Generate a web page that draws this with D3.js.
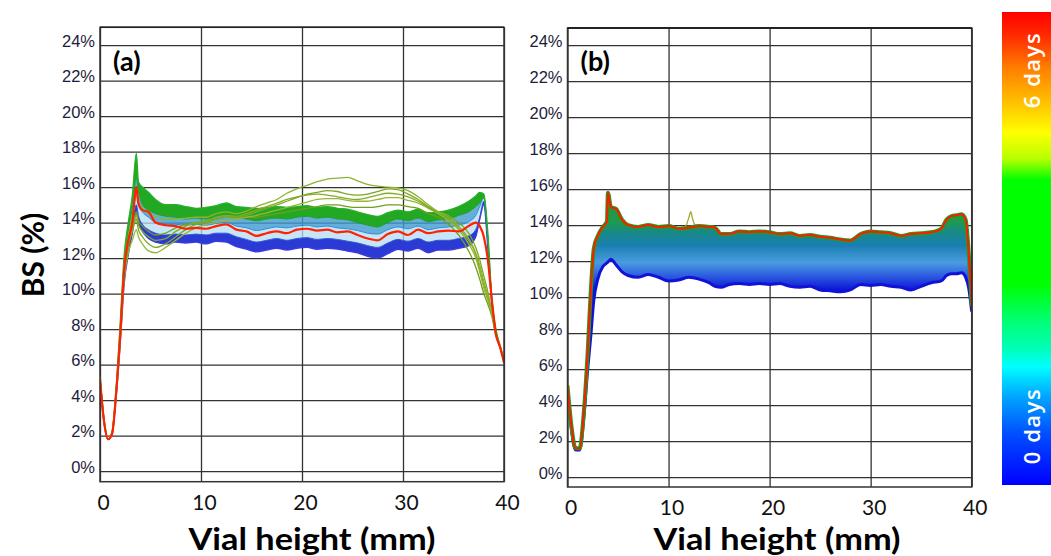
<!DOCTYPE html>
<html><head><meta charset="utf-8">
<script src="https://cdn.jsdelivr.net/npm/d3@7"></script>
<style>body{margin:0;background:#fff}svg{display:block}</style>
</head><body>
<svg id="c" width="1051" height="556"></svg>
<script>
// ---------- shared ticks ----------
const xTicks = [0, 10, 20, 30, 40];
const yTicks = [0, 2, 4, 6, 8, 10, 12, 14, 16, 18, 20, 22, 24];

// ---------- panel (a) data : vial height (mm) and BS (%) ----------
const aHeight = [0,0.4,0.8,1.2,1.6,2.0,2.4,2.8,3.2,3.6,3.8,4.2,4.8,5.5,6.5,7.5,8.5,9.5,10.5,11.5,12.5,13.5,14.5,15.5,16.5,17.5,18.5,19.5,20.5,21.5,22.5,23.5,24.5,25.5,26.5,27.5,28.5,29.5,30.5,31.5,32.5,33.5,34.5,35.5,36.5,37.2,37.6,38.0,38.4,38.8,39.2,39.6,40];
const aDay0 = [5.0,2.7,1.8,2.1,4.2,7.2,10.6, 12.2,13.4,14.6,14.0,13.5,13.1,12.9, 12.8,12.9,12.85,12.9,12.8,12.95,12.9,12.65,12.5,12.35,12.45,12.55,12.45,12.55,12.6,12.5,12.55,12.5,12.4,12.3,12.1,12.0,12.25,12.5,12.4,12.55,12.3,12.45,12.45,12.55,12.7, 13.2,14.2,15.0,12.6,9.4,7.8,7.0,6.2];
const aBlueTop = [5.1,2.8,1.8,2.1,4.3,7.4,11.0, 12.6,13.8,15.0,14.4,13.9,13.6,13.4, 13.3,13.35,13.3,13.35,13.3,13.4,13.4,13.2,13.05,12.9,13.0,13.1,13.0,13.1,13.15,13.05,13.1,13.05,12.95,12.85,12.7,12.6,12.85,13.05,12.95,13.1,12.9,13.0,13.0,13.1,13.25, 13.6,14.3,15.2,12.8,9.5,7.8,7.0,6.2];
const aCyan = [5.2,2.8,1.8,2.2,4.4,7.6,11.3, 13.0,14.3,15.6,15.0,14.6,14.3,14.0, 13.9,13.9,13.85,13.9,13.85,13.95,14.0,13.8,13.7,13.55,13.65,13.75,13.7,13.8,13.85,13.75,13.8,13.7,13.65,13.55,13.4,13.35,13.6,13.75,13.65,13.8,13.6,13.7,13.75,13.85,14.05, 14.4,14.9,15.4,13.0,9.6,7.9,7.0,6.2];
const aGreenLow = [5.3,2.9,1.8,2.2,4.6,8.0,11.8, 13.5,14.8,16.5,15.8,15.0,14.7,14.5, 14.35,14.3,14.2,14.25,14.2,14.3,14.4,14.3,14.2,14.1,14.2,14.25,14.2,14.3,14.35,14.25,14.3,14.2,14.15,14.0,13.85,13.75,14.0,14.2,14.1,14.25,14.05,14.15,14.2,14.4,14.6, 14.9,15.1,15.4,13.2,9.6,7.9,7.0,6.2];
const aGreenTop = [5.3,2.9,1.8,2.2,4.7,8.3,12.2, 14.0,15.5,17.9,16.3,16.0,15.7,15.3, 15.0,15.0,14.9,14.8,14.85,14.95,15.1,14.9,14.85,14.8,14.85,14.9,14.85,14.9,14.95,14.85,14.9,14.8,14.75,14.6,14.45,14.35,14.55,14.7,14.6,14.75,14.55,14.6,14.7,14.9,15.2, 15.5,15.7,15.6,13.4,9.7,8.0,7.1,6.3];
const aOlive1 = [5.3,2.9,1.8,2.2,4.5,7.8,11.6, 13.2,14.4,15.6,15.2,14.8,14.5,14.3, 14.2,14.2,14.25,14.3,14.3,14.5,14.6,14.5,14.65,14.9,15.1,15.3,15.65,15.9,16.1,16.3,16.45,16.5,16.55,16.35,16.15,16.05,16.0,15.95,15.8,15.45,15.0,14.6,14.3,13.8,13.1, 12.3,11.6,10.7,9.9,8.9,7.7,7.0,6.2];
const aOlive2 = [5.2,2.8,1.8,2.2,4.4,7.5,11.0, 12.6,13.5,14.2,13.6,13.2,12.8,12.6, 12.8,13.2,13.6,13.9,14.0,14.2,14.3,14.3,14.4,14.6,14.8,15.0,15.2,15.4,15.6,15.7,15.8,15.75,15.6,15.55,15.6,15.75,15.9,15.85,15.6,15.3,14.9,14.6,14.4,14.0,13.4, 12.6,11.9,11.0,10.1,9.0,7.7,7.0,6.2];
const aOlive3 = [5.2,2.8,1.8,2.2,4.3,7.3,10.8, 12.3,13.0,13.6,13.2,12.8,12.4,12.3, 12.6,13.0,13.4,13.7,13.9,14.0,14.1,14.2,14.3,14.4,14.55,14.7,14.85,15.0,15.15,15.3,15.35,15.35,15.25,15.2,15.2,15.3,15.4,15.4,15.25,15.1,14.8,14.5,14.1,13.6,12.8, 12.0,11.2,10.3,9.6,8.8,7.7,7.0,6.2];
const aOlive4 = [5.3,2.9,1.8,2.2,4.5,7.7,11.4, 12.9,13.8,14.6,14.1,13.8,13.5,13.3, 13.4,13.7,13.9,14.0,14.1,14.2,14.3,14.25,14.3,14.3,14.4,14.5,14.6,14.7,14.8,14.9,15.0,15.0,14.9,14.85,14.85,14.9,15.0,15.0,14.9,14.8,14.5,14.3,13.9,13.3,12.4, 11.5,10.8,10.0,9.4,8.7,7.6,7.0,6.2];
const aOlive5 = [5.2,2.8,1.8,2.2,4.4,7.6,11.2, 12.8,13.6,14.4,13.9,13.5,13.2,13.0, 13.1,13.5,13.8,14.0,14.1,14.3,14.4,14.35,14.5,14.7,14.9,15.1,15.3,15.45,15.55,15.6,15.55,15.45,15.35,15.3,15.4,15.55,15.65,15.6,15.45,15.2,14.85,14.55,14.2,13.7,13.0, 12.2,11.4,10.5,9.8,8.9,7.7,7.0,6.2];
const aRed = [5.2,2.8,1.8,2.1,4.4,7.6,11.4, 13.0,14.0,16.0,15.1,14.7,14.6,14.0, 13.85,13.8,13.65,13.7,13.65,13.8,13.9,13.6,13.5,13.25,13.4,13.5,13.4,13.6,13.65,13.55,13.6,13.45,13.5,13.3,13.1,13.0,13.35,13.5,13.3,13.6,13.4,13.5,13.55,13.5,13.8, 14.0,13.8,13.2,11.9,9.6,7.7,7.0,6.1];

// ---------- panel (b) data ----------
const bHeight = [0,0.4,0.8,1.2,1.6,2.0,2.3,2.6,3.0,3.5,3.9,4.0,4.3,4.8,5.4,6.0,7.0,8.0,9.0,10.0,11.0,12.0,13.0,14.0,14.6,15.2,16.0,17.0,18.0,19.0,20.0,21.0,22.0,23.0,24.0,25.0,26.0,27.0,28.0,29.0,30.0,31.0,32.0,33.0,34.0,35.0,36.0,37.0,37.5,38.0,38.5,39.0,39.4,39.7,40.0];
const bDay0 = [4.9,2.6,1.5,1.5,3.2,6.0, 7.8,9.8,11.0,11.7,11.9,11.95,12.1,11.8,11.4,11.2, 11.1,11.25,11.1,10.9,10.95,11.1,11.0,10.8, 10.6,10.55, 10.7,10.75,10.7,10.75,10.7,10.75,10.6,10.55,10.6,10.4,10.35,10.3,10.4,10.7,10.65,10.7,10.6,10.55,10.4,10.6,10.8,10.9, 11.2,11.3,11.3,11.35,11.1,10.5,9.2];
const bDay6 = [5.1,2.8,1.6,1.6,3.5,7.0, 10.3,12.7,13.4,13.9,14.2,15.8,15.0,14.9,14.3,14.0, 13.9,14.0,13.9,13.95,13.8,13.85,13.95,13.9, 13.85,13.5, 13.5,13.65,13.6,13.65,13.6,13.5,13.55,13.4,13.45,13.35,13.3,13.2,13.15,13.5,13.65,13.6,13.55,13.4,13.5,13.55,13.6,13.8, 14.3,14.5,14.55,14.6,14.3,12.5,9.5];
const bSpikeHeight = [11.2, 11.7, 12.0, 12.2, 12.4, 12.7, 13.2];
const bSpikeValue  = [13.85, 13.95, 14.4, 14.75, 14.3, 13.95, 13.9];

// ---------- colour bar ----------
const barStops = [[0,'#ff0000'],[0.05,'#ff2a00'],[0.12,'#ff8000'],[0.19,'#ffbf00'],[0.255,'#ffff00'],[0.31,'#b8ff00'],[0.355,'#00ff00'],[0.575,'#00ff00'],[0.65,'#00ff70'],[0.71,'#00ffb4'],[0.75,'#00ffff'],[0.81,'#00aaff'],[0.89,'#0050ff'],[1,'#0000ff']];
const barLabels = ['6 days', '0 days'];

// =====================================================
const svg = d3.select('#c');
const defs = svg.append('defs');
const curve = d3.curveMonotoneX;

function drawPanel(cfg) {
  const x = d3.scaleLinear().domain([0, 40]).range(cfg.xr);
  const y = d3.scaleLinear().domain(cfg.yd).range(cfg.yr);
  const W = cfg.xr[1] - cfg.xr[0];
  const g = svg.append('g');

  defs.append('clipPath').attr('id', 'clip' + cfg.id)
    .append('rect').attr('x', cfg.xr[0]).attr('y', cfg.yr[1])
    .attr('width', W).attr('height', cfg.yr[0] - cfg.yr[1]);

  const ya = g.append('g').attr('transform', `translate(${cfg.xr[0]},0)`)
    .call(d3.axisLeft(y).tickValues(yTicks).tickSize(-W).tickPadding(5).tickFormat(d => d + '%'));
  ya.select('.domain').remove();
  ya.selectAll('line').attr('stroke', '#333').attr('stroke-width', 1.3);
  ya.selectAll('text').attr('font-family', '"Liberation Sans", Arial, sans-serif')
    .attr('font-size', 16.5).attr('fill', '#1d1d3a').attr('dy', '0.08em');

  const xa = g.append('g').attr('transform', `translate(0,${cfg.yr[0]})`)
    .call(d3.axisBottom(x).tickValues(xTicks).tickSize(-(cfg.yr[0] - cfg.yr[1])).tickPadding(13));
  xa.select('.domain').remove();
  xa.selectAll('line').attr('stroke', '#333').attr('stroke-width', 1.3);
  xa.selectAll('text').attr('font-family', 'Lato, sans-serif').attr('font-size', 21)
    .attr('fill', '#111').attr('dx', 3);

  const plot = g.append('g').attr('clip-path', `url(#clip${cfg.id})`);
  cfg.draw(plot, x, y);

  g.append('rect').attr('x', cfg.xr[0]).attr('y', cfg.yr[1]).attr('width', W)
    .attr('height', cfg.yr[0] - cfg.yr[1]).attr('fill', 'none')
    .attr('stroke', '#333').attr('stroke-width', 1.5);
  g.append('line').attr('x1', cfg.xr[0]).attr('x2', cfg.xr[1]).attr('y1', cfg.yr[1]).attr('y2', cfg.yr[1])
    .attr('stroke', '#222').attr('stroke-width', cfg.topW);

  g.append('text').attr('x', cfg.xr[0] + 13).attr('y', 71).text(cfg.letter)
    .attr('font-family', 'Lato, sans-serif').attr('font-weight', 700)
    .attr('font-size', 27).attr('fill', '#000');

  g.append('text').attr('x', cfg.titleX).attr('y', 550).attr('text-anchor', 'middle')
    .attr('font-family', 'Lato, sans-serif').attr('font-weight', 700)
    .attr('font-size', 31).attr('textLength', 247).attr('lengthAdjust', 'spacingAndGlyphs')
    .attr('fill', '#000').text('Vial height (mm)');
}

function lineOf(h, v, x, y) {
  return d3.line().curve(curve).x((d, i) => x(h[i])).y((d, i) => y(v[i]))(h);
}
function areaOf(h, lo, hi, x, y) {
  return d3.area().curve(curve).x((d, i) => x(h[i])).y0((d, i) => y(lo[i])).y1((d, i) => y(hi[i]))(h);
}

// ---------- panel (a) ----------
drawPanel({
  id: 'a', letter: '(a)', xr: [100, 504], yd: [-0.6, 25], yr: [481.7, 27.3], titleX: 312, topW: 1.5,
  draw(p, x, y) {
    const h = aHeight;
    p.append('path').attr('d', areaOf(h, aDay0, aBlueTop, x, y)).attr('fill', '#2b3ad4');
    p.append('path').attr('d', areaOf(h, aBlueTop, aCyan, x, y)).attr('fill', '#b4dcf3').attr('opacity', 0.75);
    p.append('path').attr('d', areaOf(h, aCyan, aGreenLow, x, y)).attr('fill', '#3e9ad0').attr('opacity', 0.8);
    p.append('path').attr('d', areaOf(h, aGreenLow, aGreenTop, x, y)).attr('fill', '#22a822');
    const strokes = [
      [aDay0, '#3a3ae0', 1.4], [aBlueTop, '#2a55d0', 1], [aCyan, '#2a8fd8', 1],
      [aGreenLow, '#1e9e2a', 1], [aGreenTop, '#26b026', 1.4]
    ];
    strokes.forEach(([v, c, w]) => p.append('path').attr('d', lineOf(h, v, x, y))
      .attr('fill', 'none').attr('stroke', c).attr('stroke-width', w));
    const olives = [[aOlive4, '#6f9f1c'], [aOlive3, '#96b834'], [aOlive5, '#84ad26'], [aOlive2, '#7da822'], [aOlive1, '#8cb42c']];
    olives.forEach(([v, c]) => p.append('path').attr('d', lineOf(h, v, x, y))
      .attr('fill', 'none').attr('stroke', c).attr('stroke-width', 1.3));
    p.append('path').attr('d', lineOf(h, aRed, x, y)).attr('fill', 'none')
      .attr('stroke', '#ff2200').attr('stroke-width', 2.2);
  }
});

// ---------- panel (b) ----------
const gradB = defs.append('linearGradient').attr('id', 'gradB')
  .attr('gradientUnits', 'userSpaceOnUse').attr('x1', 0).attr('x2', 0);
drawPanel({
  id: 'b', letter: '(b)', xr: [567.5, 971.7], yd: [-0.55, 24.95], yr: [487, 28], titleX: 777, topW: 2.2,
  draw(p, x, y) {
    const h = bHeight;
    gradB.attr('y1', y(14.2)).attr('y2', y(10.4));
    [[0, '#1f9a4c'], [0.15, '#178a84'], [0.35, '#1a7fb0'], [0.6, '#4a9ce0'], [0.8, '#2c5ae0'], [1, '#0c14d8']]
      .forEach(([o, c]) => gradB.append('stop').attr('offset', o).attr('stop-color', c));
    p.append('path').attr('d', areaOf(h, bDay0, bDay6, x, y)).attr('fill', 'url(#gradB)');
    p.append('path').attr('d', lineOf(h, bDay0, x, y)).attr('fill', 'none')
      .attr('stroke', '#1212d6').attr('stroke-width', 3);
    p.append('path').attr('d', lineOf(bSpikeHeight, bSpikeValue, x, y)).attr('fill', 'none')
      .attr('stroke', '#a8a830').attr('stroke-width', 1.3);
    p.append('path').attr('d', lineOf(h, bDay6, x, y)).attr('fill', 'none')
      .attr('stroke', '#1fa01f').attr('stroke-width', 4);
    p.append('path').attr('d', lineOf(h, bDay6, x, y)).attr('fill', 'none')
      .attr('stroke', '#ff1a00').attr('stroke-width', 2);
  }
});

// ---------- y title ----------
svg.append('text').attr('transform', 'translate(44,255) rotate(-90)').attr('text-anchor', 'middle')
  .attr('font-family', 'Lato, sans-serif').attr('font-weight', 700).attr('font-size', 30)
  .attr('fill', '#000').text('BS (%)');

// ---------- colour bar ----------
const barScale = d3.scaleLinear().domain([0, 1]).range([12, 485]);
const gradBar = defs.append('linearGradient').attr('id', 'gradBar').attr('x1', 0).attr('x2', 0).attr('y1', 0).attr('y2', 1);
barStops.forEach(([o, c]) => gradBar.append('stop').attr('offset', o).attr('stop-color', c));
svg.append('rect').attr('x', 1002).attr('y', barScale(0)).attr('width', 49)
  .attr('height', barScale(1) - barScale(0)).attr('fill', 'url(#gradBar)');
[[barLabels[0], 70], [barLabels[1], 426]].forEach(([t, cy]) =>
  svg.append('text').attr('transform', `translate(1040,${cy}) rotate(-90)`).attr('text-anchor', 'middle')
    .attr('font-family', '"Open Sans", sans-serif').attr('font-weight', 600).attr('font-size', 22)
    .attr('letter-spacing', 1.5).attr('fill', '#fff').text(t));
</script>
</body></html>
